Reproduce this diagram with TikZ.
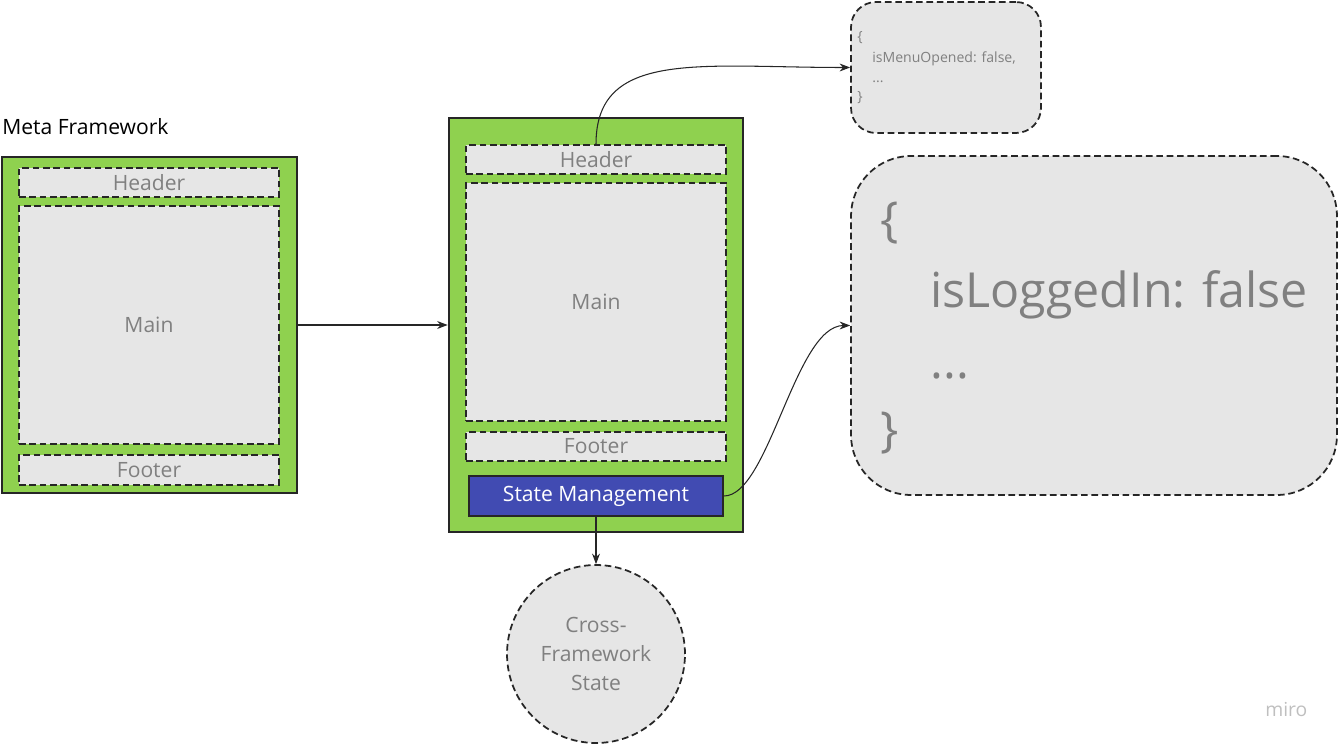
\documentclass[tikz,border=0pt]{standalone}
\usepackage{fontspec}
\setmainfont{Open Sans}
\usetikzlibrary{arrows.meta}
\definecolor{frameGreen}{HTML}{8FD14F}
\definecolor{slotGray}{HTML}{E6E6E6}
\definecolor{textGray}{HTML}{808080}
\definecolor{stateBlue}{HTML}{414BB2}
\newcommand\sz[1]{\fontsize{#1}{1.3\dimexpr#1pt\relax}\selectfont}

\begin{document}
\begin{tikzpicture}[x = 0.02cm, y = -0.02cm,
	frame/.style = {draw = black!85, line width = 1.5pt, fill = frameGreen, inner sep = 0},
	slot/.style = {draw = black!85, dash pattern = on 3.8pt off 2.1pt, line width = 1pt, fill = slotGray, text = textGray, inner sep = 0, font = \sz{12}},
	bubble/.style = {slot, rounded corners = #1},
	code/.style = {anchor = base west, text = textGray, inner sep = 0},
	conn/.style = {draw = black!85, line width = 0.6pt, -{Stealth[length = 6pt, width = 4.5pt]}}]
	\useasboundingbox (0,0) rectangle (1338,746);

		% meta framework
		\begin{scope}
		\node [anchor = base west, inner sep = 0, font = \sz{12}] (metaTitle) at (2,135) {Meta Framework};
		\node [frame, minimum width = 5.9cm, minimum height = 6.72cm] (metaFrame) at (149.5,325) {};
		\node [slot, minimum width = 5.2cm, minimum height = 0.58cm] (metaHeader) at (149,182.5) {Header};
		\node [slot, minimum width = 5.2cm, minimum height = 4.76cm] (metaMain) at (149,325) {Main};
		\node [slot, minimum width = 5.2cm, minimum height = 0.6cm] (metaFooter) at (149,470) {Footer};
		\end{scope}

		% app with state management
		\begin{scope}
		\node [frame, minimum width = 5.88cm, minimum height = 8.28cm] (appFrame) at (596,325) {};
		\node [slot, minimum width = 5.2cm, minimum height = 0.58cm] (appHeader) at (596,159.5) {Header};
		\node [slot, minimum width = 5.2cm, minimum height = 4.76cm] (appMain) at (596,302) {Main};
		\node [slot, minimum width = 5.2cm, minimum height = 0.58cm] (appFooter) at (596,446.5) {Footer};
		\node [draw = black!85, line width = 1.1pt, fill = stateBlue, text = white, inner sep = 0, font = \sz{12}, minimum width = 5.08cm, minimum height = 0.8cm] (appState) at (596,496) {State Management};
		\end{scope}

		% state objects
		\node [bubble = 0.5cm, minimum width = 3.8cm, minimum height = 2.62cm] (menuState) at (946,67.5) {};
		\node [code, font = \sz{8}] (menuOpen) at (857,42) {\{};
		\node [code, font = \sz{8}] (menuKey) at (872,63) {isMenuOpened: false,};
		\node [code, font = \sz{8}] (menuMore) at (872,83) {...};
		\node [code, font = \sz{8}] (menuClose) at (857,102) {\}};

		\node [bubble = 1.2cm, minimum width = 9.72cm, minimum height = 6.78cm] (userState) at (1094,325.5) {};
		\node [code, font = \sz{27.5}] (userOpen) at (880,237) {\{};
		\node [code, font = \sz{27.5}] (userKey) at (930,308) {isLoggedIn: false};
		\node [code, font = \sz{27.5}] (userMore) at (930,378) {...};
		\node [code, font = \sz{27.5}] (userClose) at (880,446) {\}};

		\node [slot, circle, minimum size = 3.56cm, align = center, font = \fontsize{12}{16.5}\selectfont] (crossState) at (596,654) {Cross-\\Framework\\State};

		\node [text = black!25, font = \sz{11}, anchor = base west, inner sep = 0] (miroMark) at (1265,716) {miro};

		% connectors
		\draw [conn] (metaFrame.east) -- (appFrame.west);
		\draw [conn] (appState.south) -- (crossState.north);
		\draw [conn] (appHeader.north) .. controls +(0,-95) and +(-150,0) .. (menuState.west);
		\draw [conn] (appState.east) .. controls +(45,0) and +(-55,0) .. (userState.west);
	\end{tikzpicture}
\end{document}
